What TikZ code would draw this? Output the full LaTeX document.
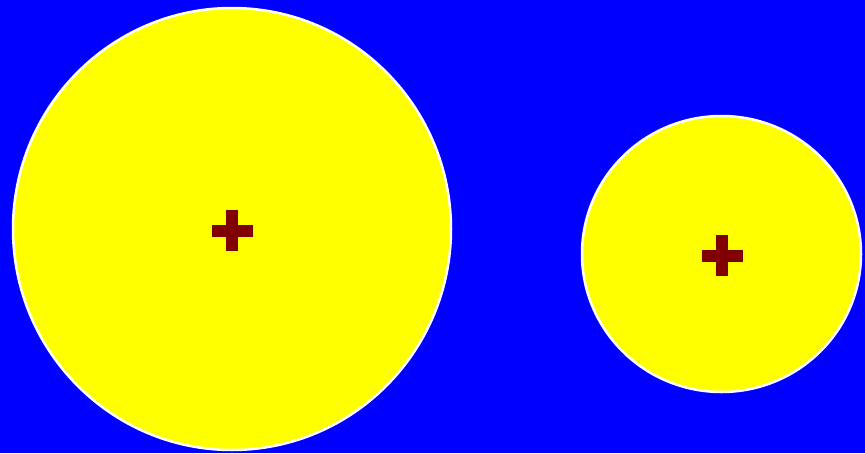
\documentclass[tikz,border=0pt]{standalone}
\usepackage{tikz}
\usetikzlibrary{positioning, shapes.geometric, backgrounds}

\definecolor{skyblue}{HTML}{0000FF}
\definecolor{sunyellow}{HTML}{FFFF00}
\definecolor{crossred}{HTML}{800000}

\begin{document}
\begin{tikzpicture}[
    x=1pt, y=-1pt,
    disc/.style={ellipse, draw=white, fill=sunyellow, line width=2.5pt, inner sep=0pt},
    hbar/.style={rectangle, fill=crossred, minimum width=41pt, minimum height=12pt, inner sep=0pt},
    vbar/.style={rectangle, fill=crossred, minimum width=12pt, minimum height=41pt, inner sep=0pt}
]

% ---- Background ----
\fill[skyblue] (0,0) rectangle (865,453);
\useasboundingbox (0,0) rectangle (865,453);

% ---- Discs ----
\node[disc, minimum width=438pt, minimum height=442pt] (big) at (232,229) {};
\node[disc, minimum width=279pt, minimum height=276pt] (small) at (721.5,254) {};

% ---- Centre crosses ----
\node[hbar] (big_h) at (232,230.5) {};
\node[vbar] (big_v) at (big_h.center) {};
\node[hbar] (small_h) at (722,255.5) {};
\node[vbar] (small_v) at (small_h.center) {};

\end{tikzpicture}
\end{document}
